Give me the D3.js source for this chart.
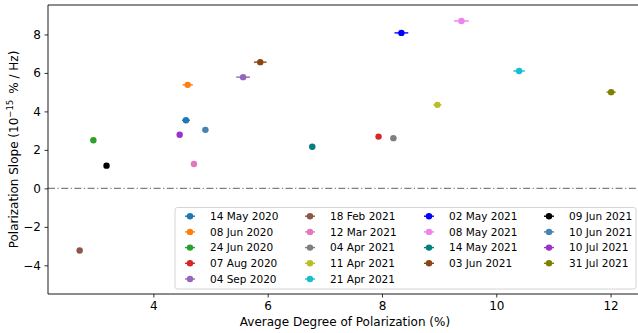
<!DOCTYPE html>
<html>
<head>
<meta charset="utf-8">
<script src="https://cdn.jsdelivr.net/npm/d3@7"></script>
<style>
  html, body { margin: 0; padding: 0; background: #fff; }
  svg { display: block; font-family: "DejaVu Sans", sans-serif; }
</style>
</head>
<body>
<svg id="chart" width="638" height="333"></svg>
<script>
// Observation dates (legend order)
const dates = [
  "14 May 2020", "08 Jun 2020", "24 Jun 2020", "07 Aug 2020", "04 Sep 2020",
  "18 Feb 2021", "12 Mar 2021", "04 Apr 2021", "11 Apr 2021", "21 Apr 2021",
  "02 May 2021", "08 May 2021", "14 May 2021", "03 Jun 2021",
  "09 Jun 2021", "10 Jun 2021", "10 Jul 2021", "31 Jul 2021"
];
// Average degree of polarization (%)
const avgPol = [4.57, 4.60, 2.95, 7.94, 5.57, 2.71, 4.71, 8.20, 8.97, 10.40,
                8.34, 9.39, 6.78, 5.87, 3.18, 4.91, 4.46, 12.01];
// Uncertainty on the average degree of polarization
const avgPolErr = [0.07, 0.09, 0.04, 0.04, 0.12, 0.04, 0.04, 0.05, 0.07, 0.10,
                   0.12, 0.13, 0.05, 0.11, 0.04, 0.05, 0.04, 0.08];
// Polarization slope (1e-15 % / Hz)
const slope = [3.54, 5.38, 2.50, 2.69, 5.78, -3.23, 1.27, 2.61, 4.34, 6.10,
               8.08, 8.70, 2.16, 6.56, 1.18, 3.04, 2.79, 5.00];
// Uncertainty on the slope
const slopeErr = [0.05, 0.05, 0.04, 0.04, 0.05, 0.04, 0.04, 0.04, 0.05, 0.05,
                  0.06, 0.06, 0.04, 0.05, 0.04, 0.04, 0.04, 0.05];
// Marker colours
const colors = [
  "#1f77b4", "#ff7f0e", "#2ca02c", "#d62728", "#9467bd",
  "#8c564b", "#e377c2", "#7f7f7f", "#bcbd22", "#17becf",
  "#0000ff", "#ee82ee", "#008080", "#8b4513",
  "#000000", "#4682b4", "#9932cc", "#808000"
];
const xTicks = [4, 6, 8, 10, 12];
const yTicks = [-4, -2, 0, 2, 4, 6, 8];

const points = dates.map((d, i) => ({
  date: d, x: avgPol[i], xe: avgPolErr[i], y: slope[i], ye: slopeErr[i], color: colors[i]
}));

const svg = d3.select("#chart");
const plot = { left: 48, top: 5, right: 638, bottom: 294 };

const x = d3.scaleLinear().domain([2.156, 12.48]).range([plot.left, plot.right]);
const y = d3.scaleLinear().domain([-5.49, 9.53]).range([plot.bottom, plot.top]);

// Zero reference line
svg.append("line")
  .attr("x1", plot.left).attr("x2", plot.right)
  .attr("y1", y(0)).attr("y2", y(0))
  .attr("stroke", "#808080").attr("stroke-width", 1.1)
  .attr("stroke-dasharray", "7,2.5,1.2,2.5");

// Axes
const xAxis = svg.append("g")
  .attr("transform", `translate(0,${plot.bottom})`)
  .call(d3.axisBottom(x).tickValues(xTicks).tickSize(3.5).tickPadding(3.5).tickFormat(d3.format("d")));
const yAxis = svg.append("g")
  .attr("transform", `translate(${plot.left},0)`)
  .call(d3.axisLeft(y).tickValues(yTicks).tickSize(3.5).tickPadding(3.5)
    .tickFormat(d => d < 0 ? "\u2212" + Math.abs(d) : String(d)));

[xAxis, yAxis].forEach(g => {
  g.select(".domain").remove();
  g.selectAll(".tick line").attr("stroke", "#000").attr("stroke-width", 0.8);
  g.selectAll(".tick text").attr("fill", "#000")
    .style("font-family", "'DejaVu Sans', sans-serif").style("font-size", "12px");
});

// Spines: left, bottom, top
svg.append("path")
  .attr("d", `M${plot.right},${plot.top}H${plot.left}V${plot.bottom}H${plot.right}`)
  .attr("fill", "none").attr("stroke", "#000").attr("stroke-width", 0.9);

// Error bars and markers
const marks = svg.append("g");
const pt = marks.selectAll("g.pt").data(points).join("g").attr("class", "pt");
pt.append("line")
  .attr("x1", d => x(d.x - d.xe)).attr("x2", d => x(d.x + d.xe))
  .attr("y1", d => y(d.y)).attr("y2", d => y(d.y))
  .attr("stroke", d => d.color).attr("stroke-width", 1.4);
pt.append("line")
  .attr("x1", d => x(d.x)).attr("x2", d => x(d.x))
  .attr("y1", d => y(d.y - d.ye)).attr("y2", d => y(d.y + d.ye))
  .attr("stroke", d => d.color).attr("stroke-width", 1.4);
pt.append("circle")
  .attr("cx", d => x(d.x)).attr("cy", d => y(d.y)).attr("r", 3.2)
  .attr("fill", d => d.color);

// Axis titles
svg.append("text")
  .attr("x", 345).attr("y", 326)
  .attr("text-anchor", "middle").style("font-size", "12px")
  .text("Average Degree of Polarization (%)");

const yt = svg.append("text")
  .attr("transform", `translate(18,${(plot.top + plot.bottom) / 2}) rotate(-90)`)
  .attr("text-anchor", "middle").style("font-size", "12px");
yt.append("tspan").text("Polarization Slope (10");
yt.append("tspan").attr("dy", -5).style("font-size", "8.5px").text("\u221215");
yt.append("tspan").attr("dy", 5).text("\u2002% / Hz)");

// Legend
const legend = svg.append("g");
legend.append("rect")
  .attr("x", 175).attr("y", 207.5).attr("width", 461).attr("height", 81.5)
  .attr("rx", 2.5).attr("fill", "#fff").attr("fill-opacity", 0.8)
  .attr("stroke", "#d0d0d0").attr("stroke-width", 0.9);

const colX = [190, 310, 429, 549];
const colStart = [0, 5, 10, 14];
const rowY0 = 216.2, rowDY = 15.7;

points.forEach((d, i) => {
  let c = 0;
  while (c < 3 && i >= colStart[c + 1]) c++;
  const r = i - colStart[c];
  const cx = colX[c], cy = rowY0 + r * rowDY;
  const g = legend.append("g");
  g.append("line").attr("x1", cx - 5).attr("x2", cx + 5).attr("y1", cy).attr("y2", cy)
    .attr("stroke", d.color).attr("stroke-width", 1.4);
  g.append("circle").attr("cx", cx).attr("cy", cy).attr("r", 3.2).attr("fill", d.color);
  g.append("text").attr("x", cx + 20).attr("y", cy).attr("dy", "0.35em")
    .style("font-size", "10.5px").attr("fill", "#000").text(d.date);
});
</script>
</body>
</html>
